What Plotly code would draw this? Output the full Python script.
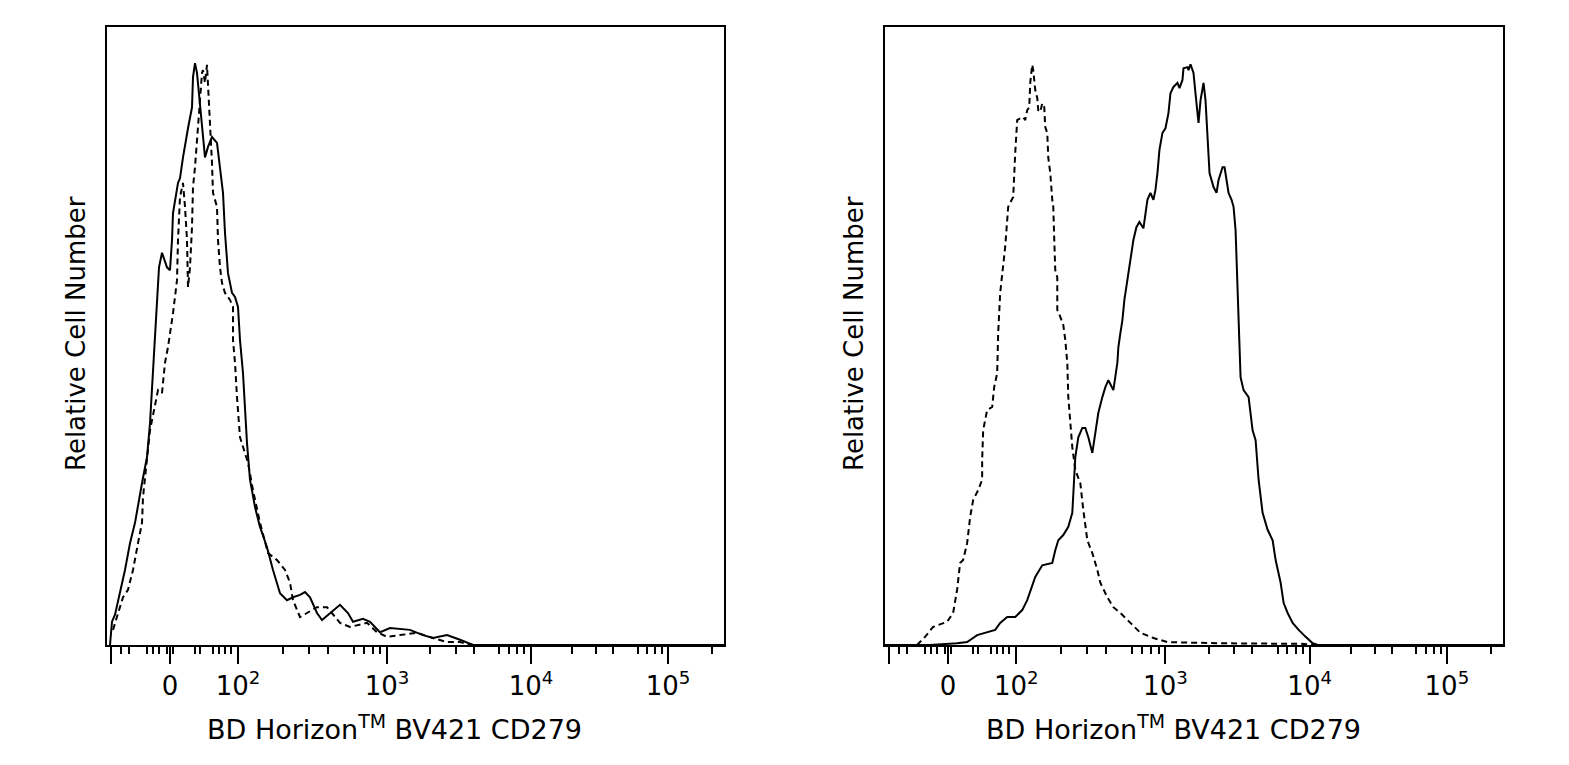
import numpy as np
import plotly.graph_objects as go

# ---------------- data (display channel units, relative count 0-100) ----------------
left_solid_x = [3, 5, 8, 13, 18, 23, 28, 35, 40, 43, 45, 48, 50, 52, 55, 60, 63, 65, 66, 71, 73, 76, 81, 85, 86, 88,
                90, 92, 95, 98, 101, 105, 110, 113, 116, 118, 121, 125, 128, 131, 133, 136, 138, 140, 143, 148, 153,
                160, 166, 173, 180, 186, 193, 198, 203, 210, 215, 223, 233, 241, 246, 256, 263, 273, 283, 303, 316,
                326, 340, 353, 366, 617]
left_solid_y = [0, 4.0, 5.2, 8.9, 12.9, 17.5, 21.0, 27.8, 32.3, 38.1, 43.8, 51.9, 59.6, 64.9, 67.4, 64.9, 64.4, 69.6,
                74.2, 79.4, 80.2, 83.8, 88.8, 92.4, 97.6, 100, 98.3, 94.8, 88.8, 83.8, 85.6, 87.3, 86.3, 82.1, 77.7,
                70.8, 63.9, 60.5, 59.8, 58.1, 52.4, 46.7, 39.9, 34.7, 28.4, 23.7, 20.3, 16.8, 12.9, 8.9, 7.7, 8.2,
                8.6, 9.1, 8.2, 5.5, 4.3, 5.5, 6.9, 5.5, 4.0, 4.5, 4.0, 2.2, 2.9, 2.6, 1.7, 1.2, 1.7, 0.9, 0, 0]

left_dash_x = [6, 11, 16, 21, 26, 31, 35, 36, 38, 40, 43, 48, 51, 55, 58, 61, 63, 66, 70, 71, 73, 76, 78, 80, 81, 83,
               85, 86, 88, 90, 93, 95, 96, 98, 100, 101, 103, 105, 106, 110, 111, 113, 115, 118, 123, 126, 126, 128,
               130, 133, 141, 146, 153, 161, 170, 178, 183, 186, 193, 200, 210, 220, 233, 243, 260, 270, 280, 293,
               310, 326, 340, 353, 366, 617]
left_dash_y = [2.6, 5.5, 8.2, 9.5, 12.9, 17.5, 21.0, 25.4, 28.9, 32.3, 36.9, 41.2, 43.8, 43.3, 48.5, 51.2, 53.3, 57.0,
               62.7, 69.6, 77.0, 79.4, 75.3, 69.6, 61.5, 64.9, 71.8, 78.7, 82.1, 86.8, 92.4, 98.3, 98.8, 96.6, 99.7,
               96.6, 90.7, 82.8, 77.7, 75.3, 69.6, 64.9, 62.2, 60.5, 59.3, 58.1, 52.4, 48.5, 42.6, 35.7, 31.3, 26.6,
               21.0, 15.8, 14.6, 12.9, 10.7, 7.7, 4.8, 5.5, 6.5, 6.5, 3.8, 3.1, 3.8, 2.2, 1.4, 1.7, 2.1, 1.2, 0.5,
               0.5, 0, 0]

right_dash_x = [32, 40, 48, 62, 68, 72, 75, 78, 82, 85, 88, 93, 97, 97, 98, 102, 107, 109, 112, 113, 115, 117, 120,
                123, 125, 128, 130, 132, 135, 138, 140, 142, 144, 145, 147, 148, 150, 152, 153, 155, 157, 159, 160,
                162, 163, 165, 167, 168, 169, 170, 172, 172, 175, 178, 180, 182, 183, 185, 187, 190, 195, 198, 202,
                207, 212, 215, 222, 228, 235, 245, 255, 268, 282, 332, 415, 435, 617]
right_dash_y = [0, 1.4, 3.1, 4.0, 5.5, 9.5, 14.1, 14.6, 17.5, 22.0, 24.9, 26.6, 28.4, 31.8, 36.9, 40.4, 40.9, 44.3,
                46.7, 53.6, 60.5, 63.9, 68.4, 75.3, 75.9, 77.0, 84.5, 90.2, 90.5, 90.7, 90.2, 91.9, 92.4, 96.6, 99.7,
                98.8, 95.4, 94.0, 91.9, 91.6, 93.1, 92.4, 89.0, 88.0, 83.8, 81.1, 76.5, 75.3, 69.6, 64.4, 63.2, 57.6,
                56.4, 55.0, 52.4, 48.5, 42.6, 38.1, 34.0, 30.1, 27.8, 23.2, 18.0, 15.8, 12.9, 10.7, 8.2, 6.5, 5.5,
                3.8, 2.1, 1.2, 0.5, 0.3, 0.2, 0, 0]

right_solid_x = [0, 45, 72, 82, 92, 102, 110, 115, 122, 130, 137, 142, 147, 150, 157, 167, 170, 173, 178, 183, 187,
                 188, 190, 193, 197, 200, 203, 207, 210, 213, 217, 220, 223, 227, 228, 232, 233, 235, 237, 239, 242,
                 245, 248, 251, 254, 258, 262, 265, 268, 270, 272, 274, 277, 280, 283, 285, 288, 292, 294, 297, 298,
                 302, 303, 305, 308, 310, 312, 313, 315, 318, 320, 322, 324, 328, 331, 333, 337, 339, 341, 343, 346,
                 348, 350, 352, 353, 355, 358, 363, 367, 370, 373, 377, 382, 387, 390, 395, 398, 402, 407, 413, 420,
                 427, 432, 617]
right_solid_y = [0, 0, 0.3, 0.5, 1.7, 2.2, 2.6, 3.8, 4.8, 4.8, 6.0, 7.7, 10.0, 11.7, 13.7, 14.1, 16.3, 18.0, 18.9,
                 20.3, 22.7, 26.6, 32.3, 35.7, 37.3, 37.3, 35.7, 33.0, 36.4, 39.9, 42.6, 44.3, 45.5, 44.3, 43.8,
                 48.5, 51.2, 53.6, 55.8, 59.3, 62.7, 66.2, 69.6, 71.8, 72.7, 71.6, 76.5, 77.7, 76.5, 78.2, 81.1,
                 85.1, 88.0, 88.8, 91.4, 94.8, 95.9, 96.6, 95.7, 97.1, 99.1, 99.3, 98.8, 99.8, 98.3, 94.8, 90.7,
                 89.7, 93.6, 96.6, 93.6, 86.8, 81.1, 78.7, 77.7, 79.9, 82.1, 82.1, 79.9, 77.7, 76.5, 75.3, 71.3,
                 62.2, 55.3, 46.0, 43.8, 42.6, 36.9, 35.2, 28.4, 22.7, 19.8, 18.0, 14.6, 10.7, 7.2, 5.5, 3.8, 2.6,
                 1.4, 0.3, 0, 0]

# ---------------- axis tick labels ----------------
major_labels = ["", "0", "10<sup>2</sup>", "10<sup>3</sup>", "10<sup>4</sup>", "10<sup>5</sup>"]
x_title = "BD Horizon<sup>TM</sup> BV421 CD279"
y_title = "Relative Cell Number"

# ---------------- biexponential-style display scale (channel positions) ----------------
major_pos = [4, 63, 131, 280, 424, 561]
decade_pos = {2: 131, 3: 280, 4: 424, 5: 561, 6: 706}
lin_minor = [14, 22, 40, 46, 52, 60, 66, 88, 93, 106, 112, 118, 124]
lin_medium = [32, 99]
log_minor, log_medium = [], []
for d in range(2, 6):
    for k in range(2, 10):
        p = decade_pos[d] + (decade_pos[d + 1] - decade_pos[d]) * np.log10(k)
        if p > 612:
            continue
        (log_medium if k == 5 else log_minor).append(float(p))
minor_pos = lin_minor + log_minor
medium_pos = lin_medium + log_medium

W, H = 1569, 765
XR = [0, 617]
YR = [0, 106.2]
FONT = "DejaVu Sans, Verdana, sans-serif"
FS = 26

fig = go.Figure()
line_solid = dict(color="black", width=2)
line_dash = dict(color="black", width=2, dash="6px,4px")
fig.add_trace(go.Scatter(x=left_dash_x, y=left_dash_y, mode="lines", line=line_dash, xaxis="x", yaxis="y"))
fig.add_trace(go.Scatter(x=left_solid_x, y=left_solid_y, mode="lines", line=line_solid, xaxis="x", yaxis="y"))
fig.add_trace(go.Scatter(x=right_dash_x, y=right_dash_y, mode="lines", line=line_dash, xaxis="x2", yaxis="y2"))
fig.add_trace(go.Scatter(x=right_solid_x, y=right_solid_y, mode="lines", line=line_solid, xaxis="x2", yaxis="y2"))

panels = [(107, 724, "x", "y", "", ""), (885, 1503, "x2", "y2", "2", "2")]
yb, yt = 645, 27
annotations = []
for i, (l, r, xa, ya, sx, sy) in enumerate(panels):
    dom = [l / W, r / W]
    fig.layout["xaxis" + sx] = dict(
        domain=dom, range=XR, anchor=ya, showline=True, linewidth=2, linecolor="black", mirror=True,
        ticks="outside", ticklen=17, tickwidth=2, tickcolor="black",
        tickmode="array", tickvals=major_pos, ticktext=major_labels,
        minor=dict(tickmode="array", tickvals=minor_pos, ticklen=7, tickwidth=2, tickcolor="black", showgrid=False),
        showgrid=False, zeroline=False, fixedrange=True,
        tickfont=dict(family=FONT, size=FS, color="black"))
    fig.layout["yaxis" + sy] = dict(
        domain=[1 - yb / H, 1 - yt / H], range=YR, anchor=xa, showline=True, linewidth=2, linecolor="black",
        mirror=True, ticks="", showticklabels=False, showgrid=False, zeroline=False, fixedrange=True)
    ov = "xaxis" + str(3 + i)
    fig.layout[ov] = dict(
        overlaying=xa, anchor=ya, range=XR, showline=False, ticks="outside", ticklen=12, tickwidth=2,
        tickcolor="black", tickmode="array", tickvals=medium_pos, showticklabels=False, showgrid=False,
        zeroline=False, fixedrange=True)
    cx = (l + r) / 2 - 21
    annotations.append(dict(text=x_title, x=cx / W, y=1 - 727 / H, xref="paper", yref="paper",
                            xanchor="center", yanchor="middle", showarrow=False,
                            font=dict(family=FONT, size=27, color="black")))
    annotations.append(dict(text=y_title, x=(l - 31) / W, y=1 - 334 / H, xref="paper", yref="paper",
                            xanchor="center", yanchor="middle", textangle=-90, showarrow=False,
                            font=dict(family=FONT, size=FS, color="black")))

fig.update_layout(width=W, height=H, margin=dict(l=0, r=0, t=0, b=0), paper_bgcolor="white",
                  plot_bgcolor="white", showlegend=False, annotations=annotations)
fig.write_html("out.html")
